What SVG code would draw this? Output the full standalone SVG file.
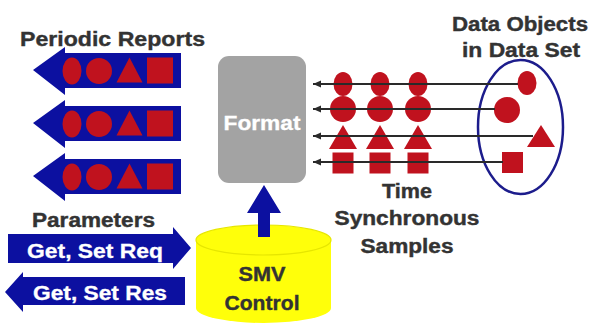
<svg xmlns="http://www.w3.org/2000/svg" width="592" height="323" viewBox="0 0 592 323">
  <style>
    .lbl { font-family: "Liberation Sans", Arial, sans-serif; font-weight: bold; fill: #333333; stroke: #333333; stroke-width: 0.4; }
    .wht { font-family: "Liberation Sans", Arial, sans-serif; font-weight: bold; fill: #ffffff; stroke: #ffffff; stroke-width: 0.3; }
    .blue { fill: #0c10a0; }
    .red { fill: #c0121e; }
    .row { stroke: #2a2a2a; stroke-width: 2; fill: none; marker-start: url(#tipL); }
  </style>
  <defs>
    <marker id="tipL" viewBox="0 0 8 8" refX="0" refY="4" markerWidth="8" markerHeight="8" markerUnits="userSpaceOnUse" orient="auto">
      <path d="M0,4 L8,0.5 L8,7.5 Z" fill="#2a2a2a"/>
    </marker>
    <!-- report arrow pointing left, centred on y=0 -->
    <g id="reportArrow">
      <polygon class="blue" points="33,0 65,-23 65,-17 181,-17 181,18 65,18 65,25"/>
      <ellipse class="red" cx="72" cy="1" rx="9.5" ry="13.5"/>
      <circle class="red" cx="99" cy="1" r="13"/>
      <polygon class="red" points="129.5,-12.5 142.5,12.5 116.5,12.5"/>
      <rect class="red" x="147" y="-12.5" width="26" height="26"/>
    </g>
  </defs>

  <!-- Periodic reports -->
  <g id="periodic-reports">
    <text class="lbl" x="20" y="46" font-size="21" textLength="185" lengthAdjust="spacingAndGlyphs">Periodic Reports</text>
    <use href="#reportArrow" y="70"/>
    <use href="#reportArrow" y="123"/>
    <use href="#reportArrow" y="176"/>
  </g>

  <!-- Format block -->
  <g id="format">
    <rect x="218" y="56" width="88" height="127" rx="11" fill="#a3a3a3"/>
    <text class="wht" x="262" y="130" font-size="20" text-anchor="middle" textLength="77" lengthAdjust="spacingAndGlyphs">Format</text>
  </g>

  <!-- SMV control store -->
  <g id="smv-control">
    <path d="M196,240 L196,308 A67.5,15 0 0 0 331,308 L331,240 A67.5,15 0 0 0 196,240 Z" fill="#ffff0a"/>
    <ellipse cx="263.5" cy="240" rx="67.5" ry="15" fill="none" stroke="#e6e600" stroke-width="1.2"/>
    <text class="lbl" x="262" y="281" font-size="21" text-anchor="middle" textLength="47" lengthAdjust="spacingAndGlyphs">SMV</text>
    <text class="lbl" x="262" y="310" font-size="21" text-anchor="middle" textLength="75" lengthAdjust="spacingAndGlyphs">Control</text>
  </g>

  <!-- Parameters -->
  <g id="parameters">
    <text class="lbl" x="32" y="227" font-size="19.5" textLength="123" lengthAdjust="spacingAndGlyphs">Parameters</text>
    <polygon class="blue" points="8,234 173,234 173,227 191,248 173,269 173,263 8,263"/>
    <text class="wht" x="27" y="258" font-size="19.5" textLength="136" lengthAdjust="spacingAndGlyphs">Get, Set Req</text>
    <polygon class="blue" points="5,292 23,272 23,277 185,277 185,305 23,305 23,312"/>
    <text class="wht" x="33" y="300" font-size="19.5" textLength="134" lengthAdjust="spacingAndGlyphs">Get, Set Res</text>
  </g>

  <!-- Time synchronous samples -->
  <g id="samples">
    <text class="lbl" x="407" y="198" font-size="19.5" text-anchor="middle" textLength="50" lengthAdjust="spacingAndGlyphs">Time</text>
    <text class="lbl" x="407" y="225" font-size="19.5" text-anchor="middle" textLength="145" lengthAdjust="spacingAndGlyphs">Synchronous</text>
    <text class="lbl" x="407" y="253" font-size="19.5" text-anchor="middle" textLength="93" lengthAdjust="spacingAndGlyphs">Samples</text>

    <g class="red">
      <ellipse cx="343" cy="84" rx="9.5" ry="12"/>
      <ellipse cx="380" cy="84" rx="9.5" ry="12"/>
      <ellipse cx="418" cy="84" rx="9.5" ry="12"/>
      <circle cx="343" cy="109" r="13"/>
      <circle cx="380" cy="109" r="13"/>
      <circle cx="418" cy="109" r="13"/>
      <polygon points="343,125 357,149 329,149"/>
      <polygon points="380,125 394,149 366,149"/>
      <polygon points="418,125 432,149 404,149"/>
      <rect x="332.5" y="152.5" width="21" height="21"/>
      <rect x="369.5" y="152.5" width="21" height="21"/>
      <rect x="407.5" y="152.5" width="21" height="21"/>
    </g>
  </g>

  <!-- Data set -->
  <g id="data-set">
    <text class="lbl" x="520" y="31" font-size="20" text-anchor="middle" textLength="136" lengthAdjust="spacingAndGlyphs">Data Objects</text>
    <text class="lbl" x="521" y="57" font-size="20" text-anchor="middle" textLength="118" lengthAdjust="spacingAndGlyphs">in Data Set</text>
    <g class="red">
      <ellipse cx="527" cy="83" rx="9.5" ry="12"/>
      <circle cx="507" cy="110" r="13"/>
      <polygon points="541,125 555,147 527,147"/>
      <rect x="502" y="152" width="21" height="21"/>
    </g>
    <ellipse cx="520.5" cy="127" rx="42.5" ry="67" fill="none" stroke="#1c1c8c" stroke-width="2.5"/>
  </g>

  <!-- Connectors -->
  <g id="connectors">
    <line class="row" x1="313" y1="84" x2="518" y2="84"/>
    <line class="row" x1="313" y1="109" x2="495" y2="109"/>
    <line class="row" x1="313" y1="136" x2="533" y2="136"/>
    <line class="row" x1="313" y1="162" x2="503" y2="162"/>
    <polygon class="blue" points="258,237 258,213 247,213 264,185 281,213 270,213 270,237"/>
  </g>
</svg>
